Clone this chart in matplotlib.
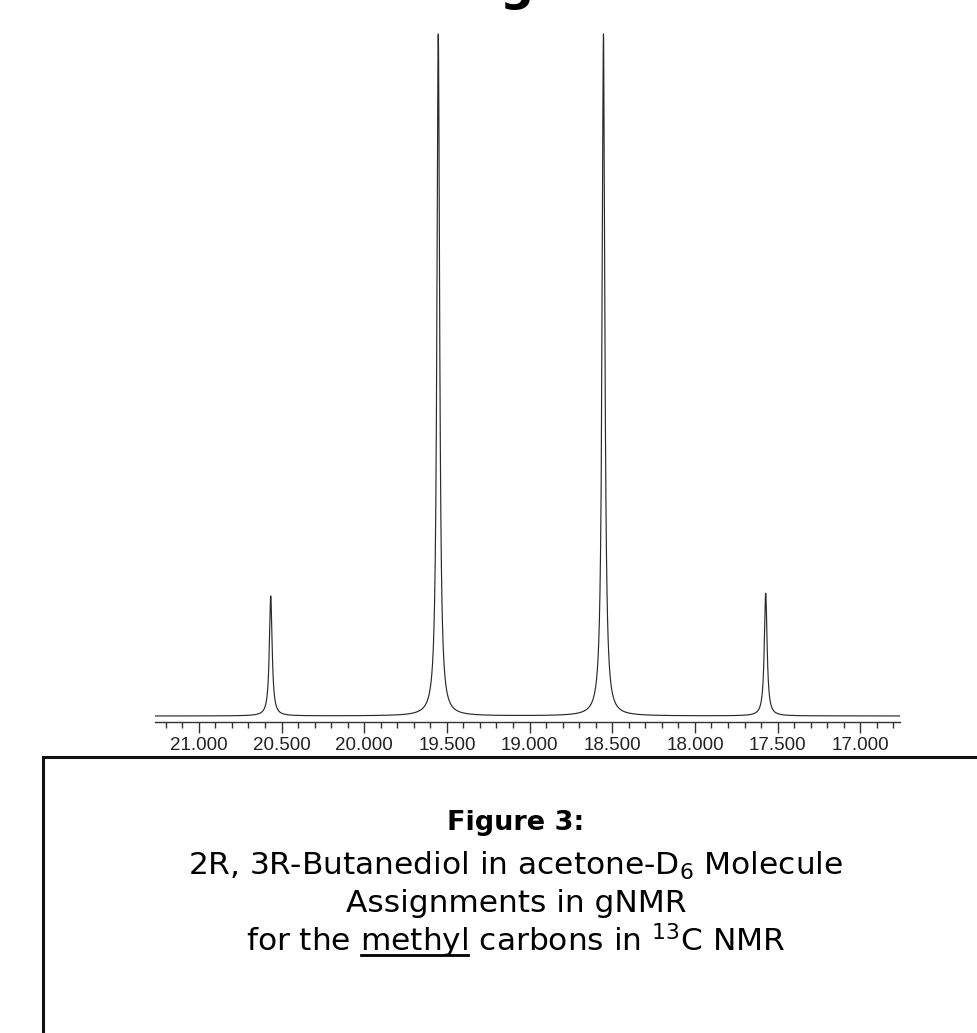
import numpy as np
import matplotlib
matplotlib.use("Agg")
import matplotlib.pyplot as plt
from matplotlib.patches import Rectangle
from matplotlib.ticker import MultipleLocator, FormatStrFormatter

#############################################
# peaks (ppm, relative height, half width)
peak_ppm = [20.565, 19.552, 18.553, 17.572]
peak_height = [17.6, 100.0, 100.0, 18.0]
peak_hwhm = [0.010, 0.010, 0.010, 0.010]

ppm_left = 21.265
ppm_right = 16.76
major_step = 0.5
minor_step = 0.1

caption_title = "Figure 3:"
caption_lines = ["2R, 3R-Butanediol in acetone-D$_6$ Molecule",
                 "Assignments in gNMR"]
caption_pre = "for the "
caption_word = "methyl"
caption_post = " carbons in $^{13}$C NMR"

#############################################
fig = plt.figure(figsize=(9.78, 10.33), dpi=100)
W, H = 978, 1033

# spectrum axes, pixel geometry of the scan
ax = fig.add_axes([155 / W, 1 - 722 / H, 745 / W, (722 - 30) / H])

ppm = np.linspace(ppm_right, ppm_left, 40000)
spec = np.zeros_like(ppm)
for c, h, g in zip(peak_ppm, peak_height, peak_hwhm):
    spec += h * g**2 / (g**2 + (ppm - c)**2)

px_per_unit = (716 - 34) / 100.0
ax.plot(ppm, spec, color="#2a2a2a", lw=0.85)
ax.set_xlim(ppm_left, ppm_right)
ax.set_ylim(-6 / px_per_unit, 100 + 4 / px_per_unit)

for s in ["left", "right", "top"]:
    ax.spines[s].set_visible(False)
ax.spines["bottom"].set_color("#333333")
ax.spines["bottom"].set_linewidth(1.0)
ax.set_yticks([])
ax.xaxis.set_major_locator(MultipleLocator(major_step))
ax.xaxis.set_minor_locator(MultipleLocator(minor_step))
ax.xaxis.set_major_formatter(FormatStrFormatter("%.3f"))
ax.tick_params(axis="x", which="major", length=8, width=1.0, color="#333333",
               labelsize=13.5, labelcolor="#222222", pad=3)
ax.tick_params(axis="x", which="minor", length=4, width=1.0, color="#333333")
for lab in ax.get_xticklabels():
    lab.set_fontfamily("Liberation Sans")

# cut-off heading at the very top
fig.text(517 / W, 1.0, "g", fontsize=34, ha="center", va="baseline",
         color="black", fontweight="bold")

# caption box
fig.patches.append(Rectangle((43 / W, -0.1), 1.0, 0.1 + 1 - 757 / H,
                             transform=fig.transFigure, fill=False,
                             edgecolor="#111111", lw=2.2, clip_on=False))

cx = 516 / W
cap_size = 22.5
fig.text(cx, 1 - 823 / H, caption_title, fontsize=19.5, fontweight="bold",
         ha="center", va="center")
fig.text(cx, 1 - 866 / H, caption_lines[0], fontsize=cap_size,
         ha="center", va="center")
fig.text(cx, 1 - 903 / H, caption_lines[1], fontsize=cap_size,
         ha="center", va="center")

full = caption_pre + caption_word + caption_post
t4 = fig.text(cx, 1 - 941 / H, full, fontsize=cap_size, ha="center", va="center")

# underline "methyl"
r = fig.canvas.get_renderer()
bb = t4.get_window_extent(r)
tmp1 = fig.text(0, 0, caption_pre, fontsize=cap_size)
tmp2 = fig.text(0, 0, caption_pre + caption_word, fontsize=cap_size)
w1 = tmp1.get_window_extent(r).width
w2 = tmp2.get_window_extent(r).width
tmp1.remove()
tmp2.remove()
yl = 1 - 955 / H
fig.add_artist(plt.Line2D([(bb.x0 + w1 + 1) / W, (bb.x0 + w2 - 1) / W], [yl, yl],
                          transform=fig.transFigure, color="black", lw=2.0))

fig.savefig("out.png", dpi=100)
